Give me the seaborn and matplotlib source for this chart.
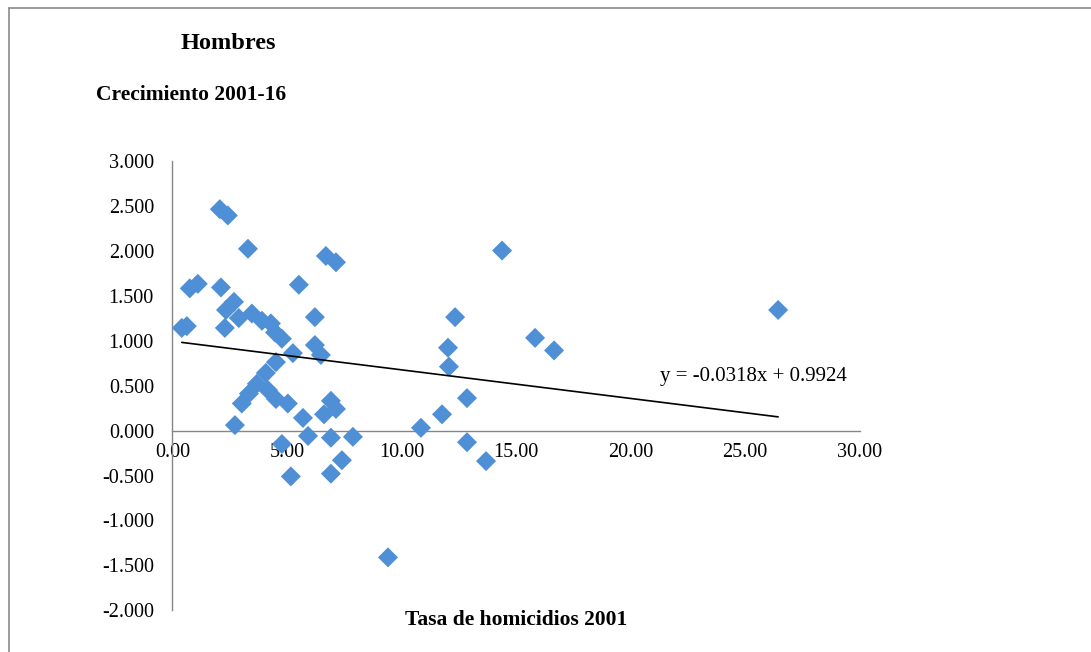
import matplotlib
matplotlib.use("Agg")
import matplotlib.pyplot as plt
from matplotlib.lines import Line2D
import numpy as np
import pandas as pd
import seaborn as sns

# Data
tasa_2001 = [0.41, 0.63, 0.76, 1.11, 2.07, 2.42, 3.30, 2.12, 2.69, 2.34,
             2.29, 2.90, 3.47, 3.91, 4.30, 4.48, 4.78, 5.52, 6.22, 6.22,
             6.48, 5.26, 4.52, 4.08, 3.69, 3.34, 3.03, 4.17, 4.52, 5.04,
             2.73, 5.70, 6.92, 7.14, 6.62, 5.92, 4.78, 6.92, 7.88, 7.40,
             5.17, 6.92, 6.70, 7.14, 10.85, 11.77, 12.03, 12.07, 12.34, 12.86,
             12.86, 13.69, 14.39, 15.83, 16.66, 26.44, 9.41]
crecimiento = [1.14, 1.16, 1.58, 1.63, 2.46, 2.39, 2.02, 1.59, 1.43, 1.34,
               1.14, 1.25, 1.30, 1.22, 1.19, 1.09, 1.02, 1.62, 1.26, 0.95,
               0.84, 0.86, 0.76, 0.64, 0.52, 0.41, 0.30, 0.45, 0.35, 0.30,
               0.06, 0.14, 0.33, 0.24, 0.18, -0.06, -0.15, -0.08, -0.07, -0.33,
               -0.51, -0.48, 1.94, 1.87, 0.03, 0.18, 0.92, 0.71, 1.26, 0.36,
               -0.13, -0.34, 2.00, 1.03, 0.89, 1.34, -1.41]
trend_slope = -0.0318
trend_intercept = 0.9924
x_ticks = [0, 5, 10, 15, 20, 25, 30]
y_ticks = [-2.0, -1.5, -1.0, -0.5, 0.0, 0.5, 1.0, 1.5, 2.0, 2.5, 3.0]

sns.set_style("white")
plt.rcParams['font.family'] = ['Liberation Serif', 'DejaVu Serif']
plt.rcParams['text.color'] = 'black'

df = pd.DataFrame({"x": tasa_2001, "y": crecimiento})

fig = plt.figure(figsize=(10.91, 6.52), dpi=100)
ax = fig.add_axes([0.158, 0.0637, 0.630, 0.690])

sns.scatterplot(data=df, x="x", y="y", ax=ax, marker="D", s=104,
                color="#4F8FD6", edgecolor="none", linewidth=0, zorder=3)

# linear trendline
xl = np.array([min(tasa_2001), max(tasa_2001)])
ax.plot(xl, trend_slope * xl + trend_intercept, color="black", lw=1.2, zorder=4)
fig.text(0.605, 0.422, "y = -0.0318x + 0.9924",
         fontsize=15, color="black", ha="left", va="center")

ax.set_xlim(0, 30)
ax.set_ylim(-2, 3)
ax.set_xticks(x_ticks)
ax.set_yticks(y_ticks)
ax.set_xticklabels([f"{v:.2f}" for v in x_ticks])
ax.set_yticklabels([f"{v:.3f}" for v in y_ticks])
ax.set_xlabel("")
ax.set_ylabel("")

for s in ["top", "right"]:
    ax.spines[s].set_visible(False)
for s in ["left", "bottom"]:
    ax.spines[s].set_color("#868686")
    ax.spines[s].set_linewidth(1.0)
ax.spines["bottom"].set_position(("data", 0))
ax.tick_params(axis="both", which="both", direction="out", length=4.3,
               color="#868686", width=1.0, labelcolor="black")
ax.tick_params(axis="y", pad=9, labelsize=14.5)
ax.tick_params(axis="x", pad=5, labelsize=14.5)
ax.patch.set_alpha(0)

# titles
fig.text(0.209, 0.933, "Hombres", fontsize=17.5, fontweight="bold", color="black",
         ha="center", va="center")
fig.text(0.088, 0.854, "Crecimiento 2001-16", fontsize=15.5, fontweight="bold", color="black",
         ha="left", va="center")
fig.text(0.473, 0.049, "Tasa de homicidios 2001", fontsize=15.5, fontweight="bold", color="black",
         ha="center", va="center")

# outer frame (top and left only visible)
fig.add_artist(Line2D([0.0085, 0.0085], [0, 0.987], transform=fig.transFigure, color="#8a8a8a", lw=1.2))
fig.add_artist(Line2D([0.0085, 1.0], [0.987, 0.987], transform=fig.transFigure, color="#8a8a8a", lw=1.2))

fig.savefig("out.png", dpi=100)
